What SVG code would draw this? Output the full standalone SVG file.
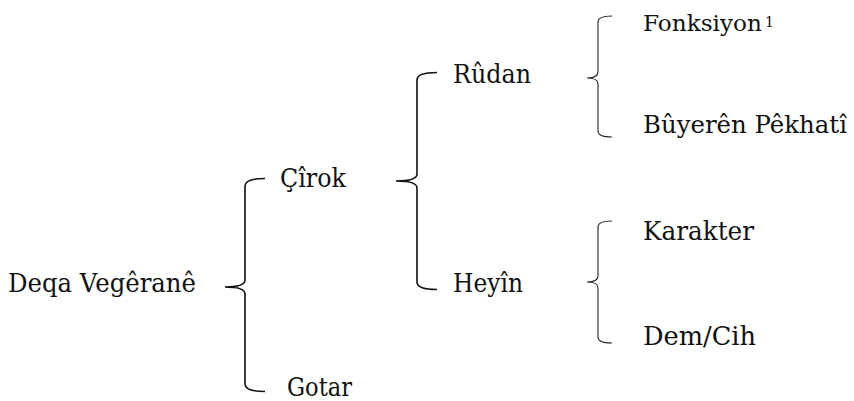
<svg xmlns="http://www.w3.org/2000/svg" width="854" height="401" viewBox="0 0 854 401">
<style>
text{font-family:"DejaVu Serif","Liberation Serif",serif;font-size:26px;fill:#111}
.sup{font-size:14px}
.br{fill:none;stroke:#111;stroke-width:1.6;stroke-linejoin:miter}
.br2{fill:none;stroke:#222;stroke-width:1.1}
</style>
<rect width="854" height="401" fill="#fff"/>
<g id="connectors">
<path class="br" d="M265 178.5 Q245 178.5 245 186 L245 280 Q245 287 225 287 Q245 287 245 294 L245 384 Q245 391.5 265 391.5"/>
<path class="br" d="M437 72.5 Q417 72.5 417 80 L417 174 Q417 181 396 181 Q417 181 417 188 L417 282 Q417 289.5 437 289.5"/>
<path class="br2" d="M612 16 Q598 16 598 22 L598 72 Q598 78 587 78 Q598 78 598 84 L598 131 Q598 137 612 137"/>
<path class="br2" d="M612 221 Q598 221 598 227 L598 276 Q598 282 587 282 Q598 282 598 288 L598 337 Q598 343 612 343"/>
</g>
<g id="deqa"><text x="8" y="292" textLength="188" lengthAdjust="spacingAndGlyphs">Deqa Vegêranê</text></g>
<g id="cirok"><text x="280" y="187" textLength="66" lengthAdjust="spacingAndGlyphs">Çîrok</text></g>
<g id="gotar"><text x="287" y="396" textLength="65" lengthAdjust="spacingAndGlyphs">Gotar</text></g>
<g id="rudan"><text x="453" y="83" textLength="78" lengthAdjust="spacingAndGlyphs">Rûdan</text></g>
<g id="heyin"><text x="453" y="292" textLength="70" lengthAdjust="spacingAndGlyphs">Heyîn</text></g>
<g id="fonksiyon"><text x="643" y="31" style="font-size:23px" textLength="119" lengthAdjust="spacingAndGlyphs">Fonksiyon</text><text class="sup" x="765" y="27">1</text></g>
<g id="buyeren"><text x="643" y="133" style="font-size:24.5px" textLength="204" lengthAdjust="spacingAndGlyphs">Bûyerên Pêkhatî</text></g>
<g id="karakter"><text x="643" y="240" textLength="111" lengthAdjust="spacingAndGlyphs">Karakter</text></g>
<g id="demcih"><text x="643" y="345" textLength="113" lengthAdjust="spacingAndGlyphs">Dem/Cih</text></g>
</svg>
